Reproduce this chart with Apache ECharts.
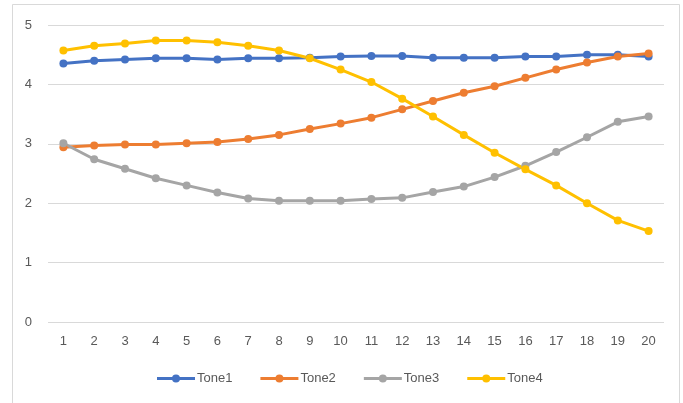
<!DOCTYPE html>
<html>
<head>
<meta charset="utf-8">
<script src="https://cdn.jsdelivr.net/npm/echarts@6/dist/echarts.min.js"></script>
<style>
  html, body { margin: 0; padding: 0; background: #fff; }
  #chart { width: 683px; height: 403px; }
</style>
</head>
<body>
<div id="chart"></div>
<script>
// Categories along the x axis
const categories = ['1','2','3','4','5','6','7','8','9','10','11','12','13','14','15','16','17','18','19','20'];

// Series values
const tone1 = [4.35, 4.40, 4.42, 4.44, 4.44, 4.42, 4.44, 4.44, 4.45, 4.47, 4.48, 4.48, 4.45, 4.45, 4.45, 4.47, 4.47, 4.50, 4.50, 4.47];
const tone2 = [2.94, 2.97, 2.99, 2.99, 3.01, 3.03, 3.08, 3.15, 3.25, 3.34, 3.44, 3.58, 3.72, 3.86, 3.97, 4.11, 4.25, 4.37, 4.47, 4.52];
const tone3 = [3.01, 2.74, 2.58, 2.42, 2.30, 2.18, 2.08, 2.04, 2.04, 2.04, 2.07, 2.09, 2.19, 2.28, 2.44, 2.63, 2.86, 3.11, 3.37, 3.46];
const tone4 = [4.57, 4.65, 4.69, 4.74, 4.74, 4.71, 4.65, 4.57, 4.44, 4.25, 4.04, 3.76, 3.46, 3.15, 2.85, 2.57, 2.30, 2.00, 1.71, 1.53];

const seriesNames = ['Tone1', 'Tone2', 'Tone3', 'Tone4'];
const seriesColors = ['#4472C4', '#ED7D31', '#A5A5A5', '#FFC000'];
const seriesData = [tone1, tone2, tone3, tone4];

// Legend marker: a short line with a dot in the middle
const lineDotIcon = 'path://M0,2.5 L38,2.5 L38,5.5 L0,5.5 Z M15,4 A4,4 0 1,1 23,4 A4,4 0 1,1 15,4 Z';

const fontFamily = 'Liberation Sans, Arial, sans-serif';
const chart = echarts.init(document.getElementById('chart'));

chart.setOption({
  animation: false,
  backgroundColor: '#fff',
  color: seriesColors,
  graphic: [{
    type: 'rect',
    shape: { x: 12.5, y: 4.5, width: 667, height: 410 },
    style: { fill: 'none', stroke: '#d9d9d9', lineWidth: 1 },
    silent: true
  }],
  grid: { left: 48, right: 19, top: 25, bottom: 81 },
  legend: {
    bottom: 13,
    left: 152,
    itemWidth: 38,
    itemHeight: 8,
    itemGap: 28,
    icon: lineDotIcon,
    textStyle: { color: '#595959', fontSize: 13, fontFamily: fontFamily, padding: [0, 0, 0, -3] },
    data: seriesNames
  },
  xAxis: {
    type: 'category',
    data: categories,
    boundaryGap: true,
    axisLine: { show: false },
    axisTick: { show: false },
    axisLabel: { color: '#595959', fontSize: 13, fontFamily: fontFamily, margin: 13 }
  },
  yAxis: {
    type: 'value',
    min: 0,
    max: 5,
    interval: 1,
    axisLine: { show: false },
    axisTick: { show: false },
    axisLabel: { color: '#595959', fontSize: 13, fontFamily: fontFamily, margin: 16 },
    splitLine: { lineStyle: { color: '#d9d9d9', width: 1 } }
  },
  series: seriesNames.map((name, i) => ({
    name: name,
    type: 'line',
    data: seriesData[i],
    symbol: 'circle',
    symbolSize: 8,
    lineStyle: { width: 3, color: seriesColors[i] },
    itemStyle: { color: seriesColors[i] }
  }))
});
</script>
</body>
</html>
